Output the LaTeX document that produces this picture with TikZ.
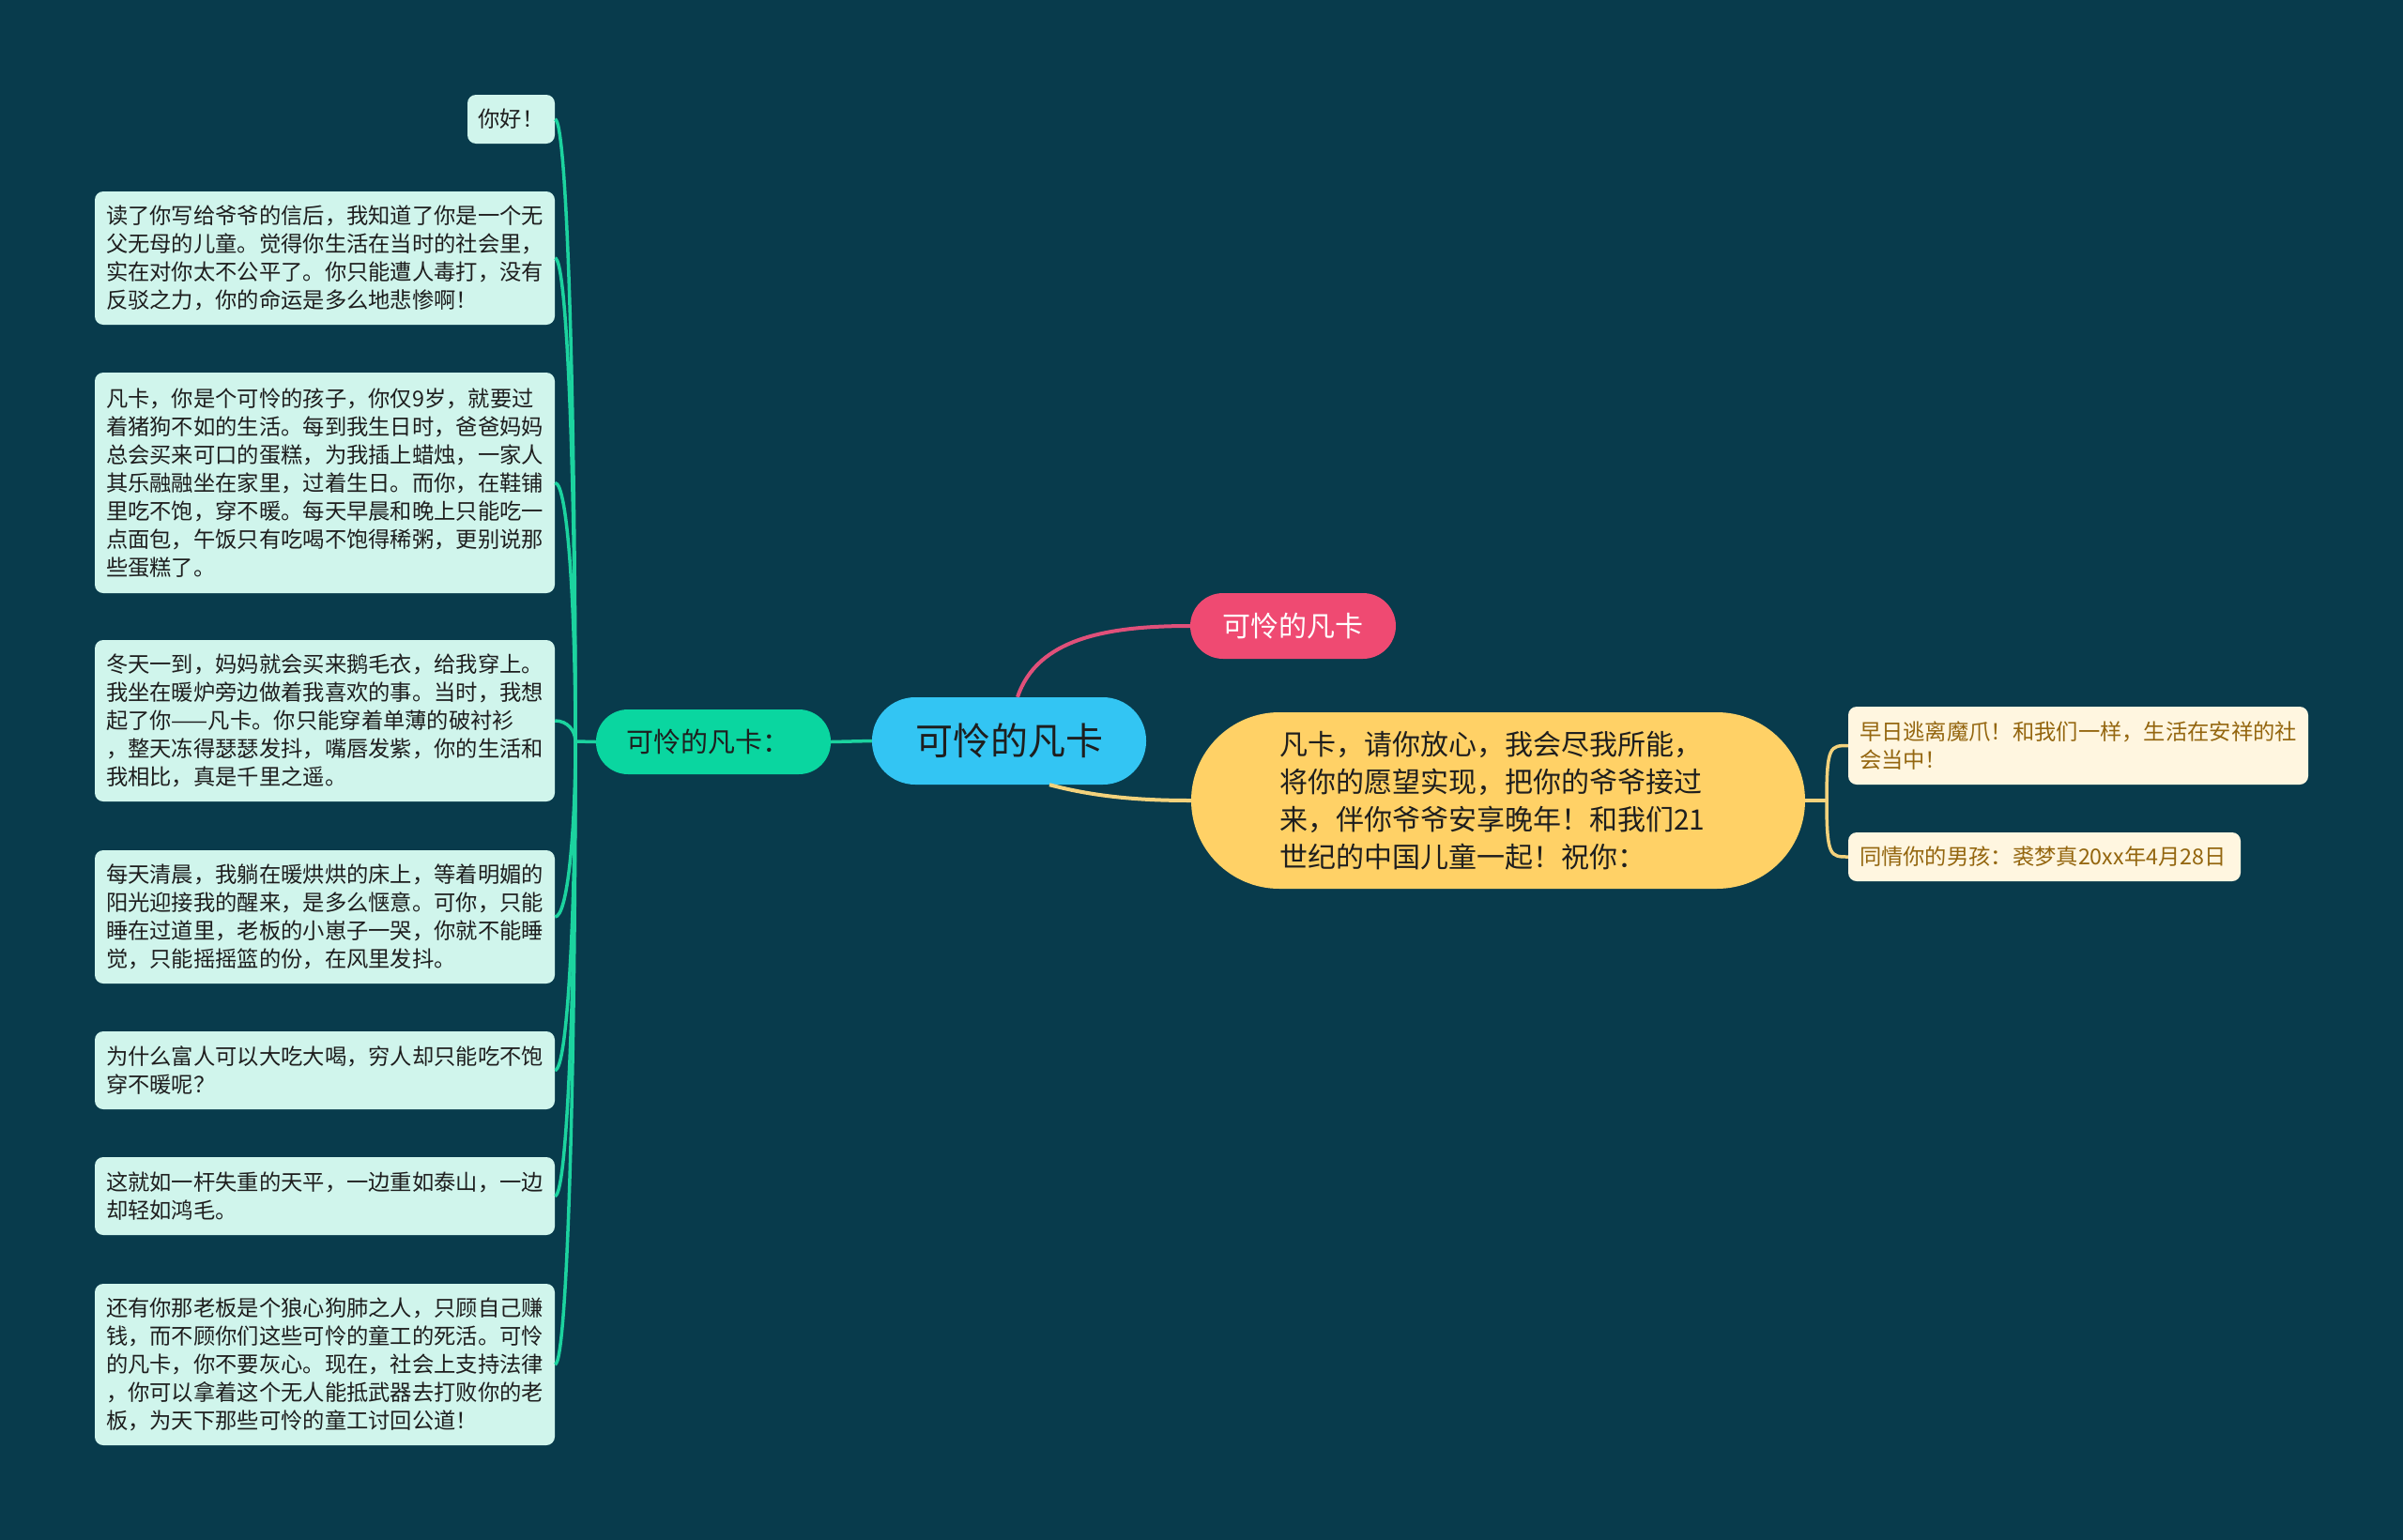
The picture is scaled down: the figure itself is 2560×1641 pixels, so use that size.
\documentclass[tikz,border=0pt]{standalone}
\usepackage{fontspec}
\setmainfont{Noto Sans CJK SC}
\definecolor{bg}{HTML}{083B4C}
\definecolor{centralc}{HTML}{33C5F3}
\definecolor{branchg}{HTML}{0AD6A0}
\definecolor{gline}{HTML}{1CD39F}
\definecolor{pinkc}{HTML}{EF4A72}
\definecolor{pinkline}{HTML}{E0507A}
\definecolor{yellowc}{HTML}{FFD166}
\definecolor{yline}{HTML}{F3D27C}
\definecolor{mint}{HTML}{D0F5EC}
\definecolor{cream}{HTML}{FFF6E0}
\definecolor{leaftext}{HTML}{94660F}
\definecolor{darktext}{HTML}{1E1E1E}
\tikzset{
  leftbox/.style={rectangle, rounded corners=9pt, fill=mint, text=darktext,
    font=\fontsize{23.3}{30}\selectfont, align=left, inner xsep=12pt, inner ysep=0pt, text width=466pt},
  leafbox/.style={rectangle, rounded corners=9pt, fill=cream, text=leaftext,
    font=\fontsize{23.3}{30}\selectfont, align=left, inner xsep=12pt, inner ysep=0pt},
  pill/.style={rectangle, inner sep=0pt, align=center},
  gconn/.style={draw=gline, line width=3.5pt},
  yconn/.style={draw=yline, line width=3.5pt},
}
\begin{document}
\begin{tikzpicture}[x=1pt,y=-1pt]
\fill[bg] (0,0) rectangle (2560,1641);
\useasboundingbox (0,0) rectangle (2560,1641);

% central and main branches
\node[pill, fill=centralc, rounded corners=46pt, minimum width=292pt, minimum height=93pt,
  text=darktext, font=\fontsize{40}{48}\selectfont] (c) at (1075,789.5) {可怜的凡卡};
\node[pill, fill=branchg, rounded corners=34pt, minimum width=250pt, minimum height=69pt,
  text=darktext, font=\fontsize{29}{34}\selectfont] (lb) at (760,790.5) {\hspace*{-12pt}可怜的凡卡：};
\node[pill, fill=pinkc, rounded corners=35pt, minimum width=219pt, minimum height=70pt,
  text=white, font=\fontsize{30}{36}\selectfont] (pk) at (1377.5,667) {可怜的凡卡};
\node[pill, fill=yellowc, rounded corners=94pt, minimum width=654pt, minimum height=188pt,
  text=darktext, font=\fontsize{30}{40}\selectfont, align=left, text width=466pt] (yl) at (1596,853)
  {凡卡，请你放心，我会尽我所能，\\将你的愿望实现，把你的爷爷接过\\来，伴你爷爷安享晚年！和我们21\\世纪的中国儿童一起！祝你：};

% left children
\node[leftbox, text width=70pt, inner xsep=11.5pt, minimum height=52pt] (b1) at (544.5,127) {你好！};
\node[leftbox, minimum height=142pt] (b2) at (346,275)
  {读了你写给爷爷的信后，我知道了你是一个无\\父无母的儿童。觉得你生活在当时的社会里，\\实在对你太不公平了。你只能遭人毒打，没有\\反驳之力，你的命运是多么地悲惨啊！};
\node[leftbox, minimum height=235pt] (b3) at (346,514.5)
  {凡卡，你是个可怜的孩子，你仅9岁，就要过\\着猪狗不如的生活。每到我生日时，爸爸妈妈\\总会买来可口的蛋糕，为我插上蜡烛，一家人\\其乐融融坐在家里，过着生日。而你，在鞋铺\\里吃不饱，穿不暖。每天早晨和晚上只能吃一\\点面包，午饭只有吃喝不饱得稀粥，更别说那\\些蛋糕了。};
\node[leftbox, minimum height=172pt] (b4) at (346,768)
  {冬天一到，妈妈就会买来鹅毛衣，给我穿上。\\我坐在暖炉旁边做着我喜欢的事。当时，我想\\起了你——凡卡。你只能穿着单薄的破衬衫\\，整天冻得瑟瑟发抖，嘴唇发紫，你的生活和\\我相比，真是千里之遥。};
\node[leftbox, minimum height=142pt] (b5) at (346,977)
  {每天清晨，我躺在暖烘烘的床上，等着明媚的\\阳光迎接我的醒来，是多么惬意。可你，只能\\睡在过道里，老板的小崽子一哭，你就不能睡\\觉，只能摇摇篮的份，在风里发抖。};
\node[leftbox, minimum height=83pt] (b6) at (346,1140.5)
  {为什么富人可以大吃大喝，穷人却只能吃不饱\\穿不暖呢？};
\node[leftbox, minimum height=83pt] (b7) at (346,1274.5)
  {这就如一杆失重的天平，一边重如泰山，一边\\却轻如鸿毛。};
\node[leftbox, minimum height=172pt] (b8) at (346,1454)
  {还有你那老板是个狼心狗肺之人，只顾自己赚\\钱，而不顾你们这些可怜的童工的死活。可怜\\的凡卡，你不要灰心。现在，社会上支持法律\\，你可以拿着这个无人能抵武器去打败你的老\\板，为天下那些可怜的童工讨回公道！};

% right leaves
\node[leafbox, text width=466pt, minimum height=83pt] (f1) at (2214,794.5)
  {早日逃离魔爪！和我们一样，生活在安祥的社\\会当中！};
\node[leafbox, text width=394pt, minimum height=52pt] (f2) at (2178,913)
  {同情你的男孩：裘梦真20xx年4月28日};

% junctions
\coordinate (lj) at (613,790);
\coordinate (yj) at (1946,853);

% connectors (drawn behind via order: redraw nodes not needed as lines end at borders)
\draw[gconn] (c.west) -- (lb.east);
\draw[gconn] (lb.west) -- (lj);
\draw[gconn] (b1.east) .. controls (605,127) and (613,458) .. (lj);
\draw[gconn] (b2.east) .. controls (605,275) and (613,532) .. (lj);
\draw[gconn] (b3.east) .. controls (605,514) and (613,652) .. (lj);
\draw[gconn] (b4.east) .. controls (605,768) and (613,779) .. (lj);
\draw[gconn] (b5.east) .. controls (605,977) and (613,883) .. (lj);
\draw[gconn] (b6.east) .. controls (605,1140) and (613,965) .. (lj);
\draw[gconn] (b7.east) .. controls (605,1274) and (613,1032) .. (lj);
\draw[gconn] (b8.east) .. controls (605,1454) and (613,1122) .. (lj);

\draw[draw=pinkline, line width=4pt] ([xshift=9pt]c.north) .. controls (1105,680) and (1180,667) .. (pk.west);
\draw[draw=yline, line width=4pt] ([xshift=43pt]c.south) .. controls (1170,850) and (1220,853) .. (yl.west);

\draw[yconn] (yl.east) -- (yj);
\draw[yconn] (yj) .. controls (1946,794.5) and (1950,794.5) .. (f1.west);
\draw[yconn] (yj) .. controls (1946,913) and (1950,913) .. (f2.west);
\end{tikzpicture}
\end{document}
